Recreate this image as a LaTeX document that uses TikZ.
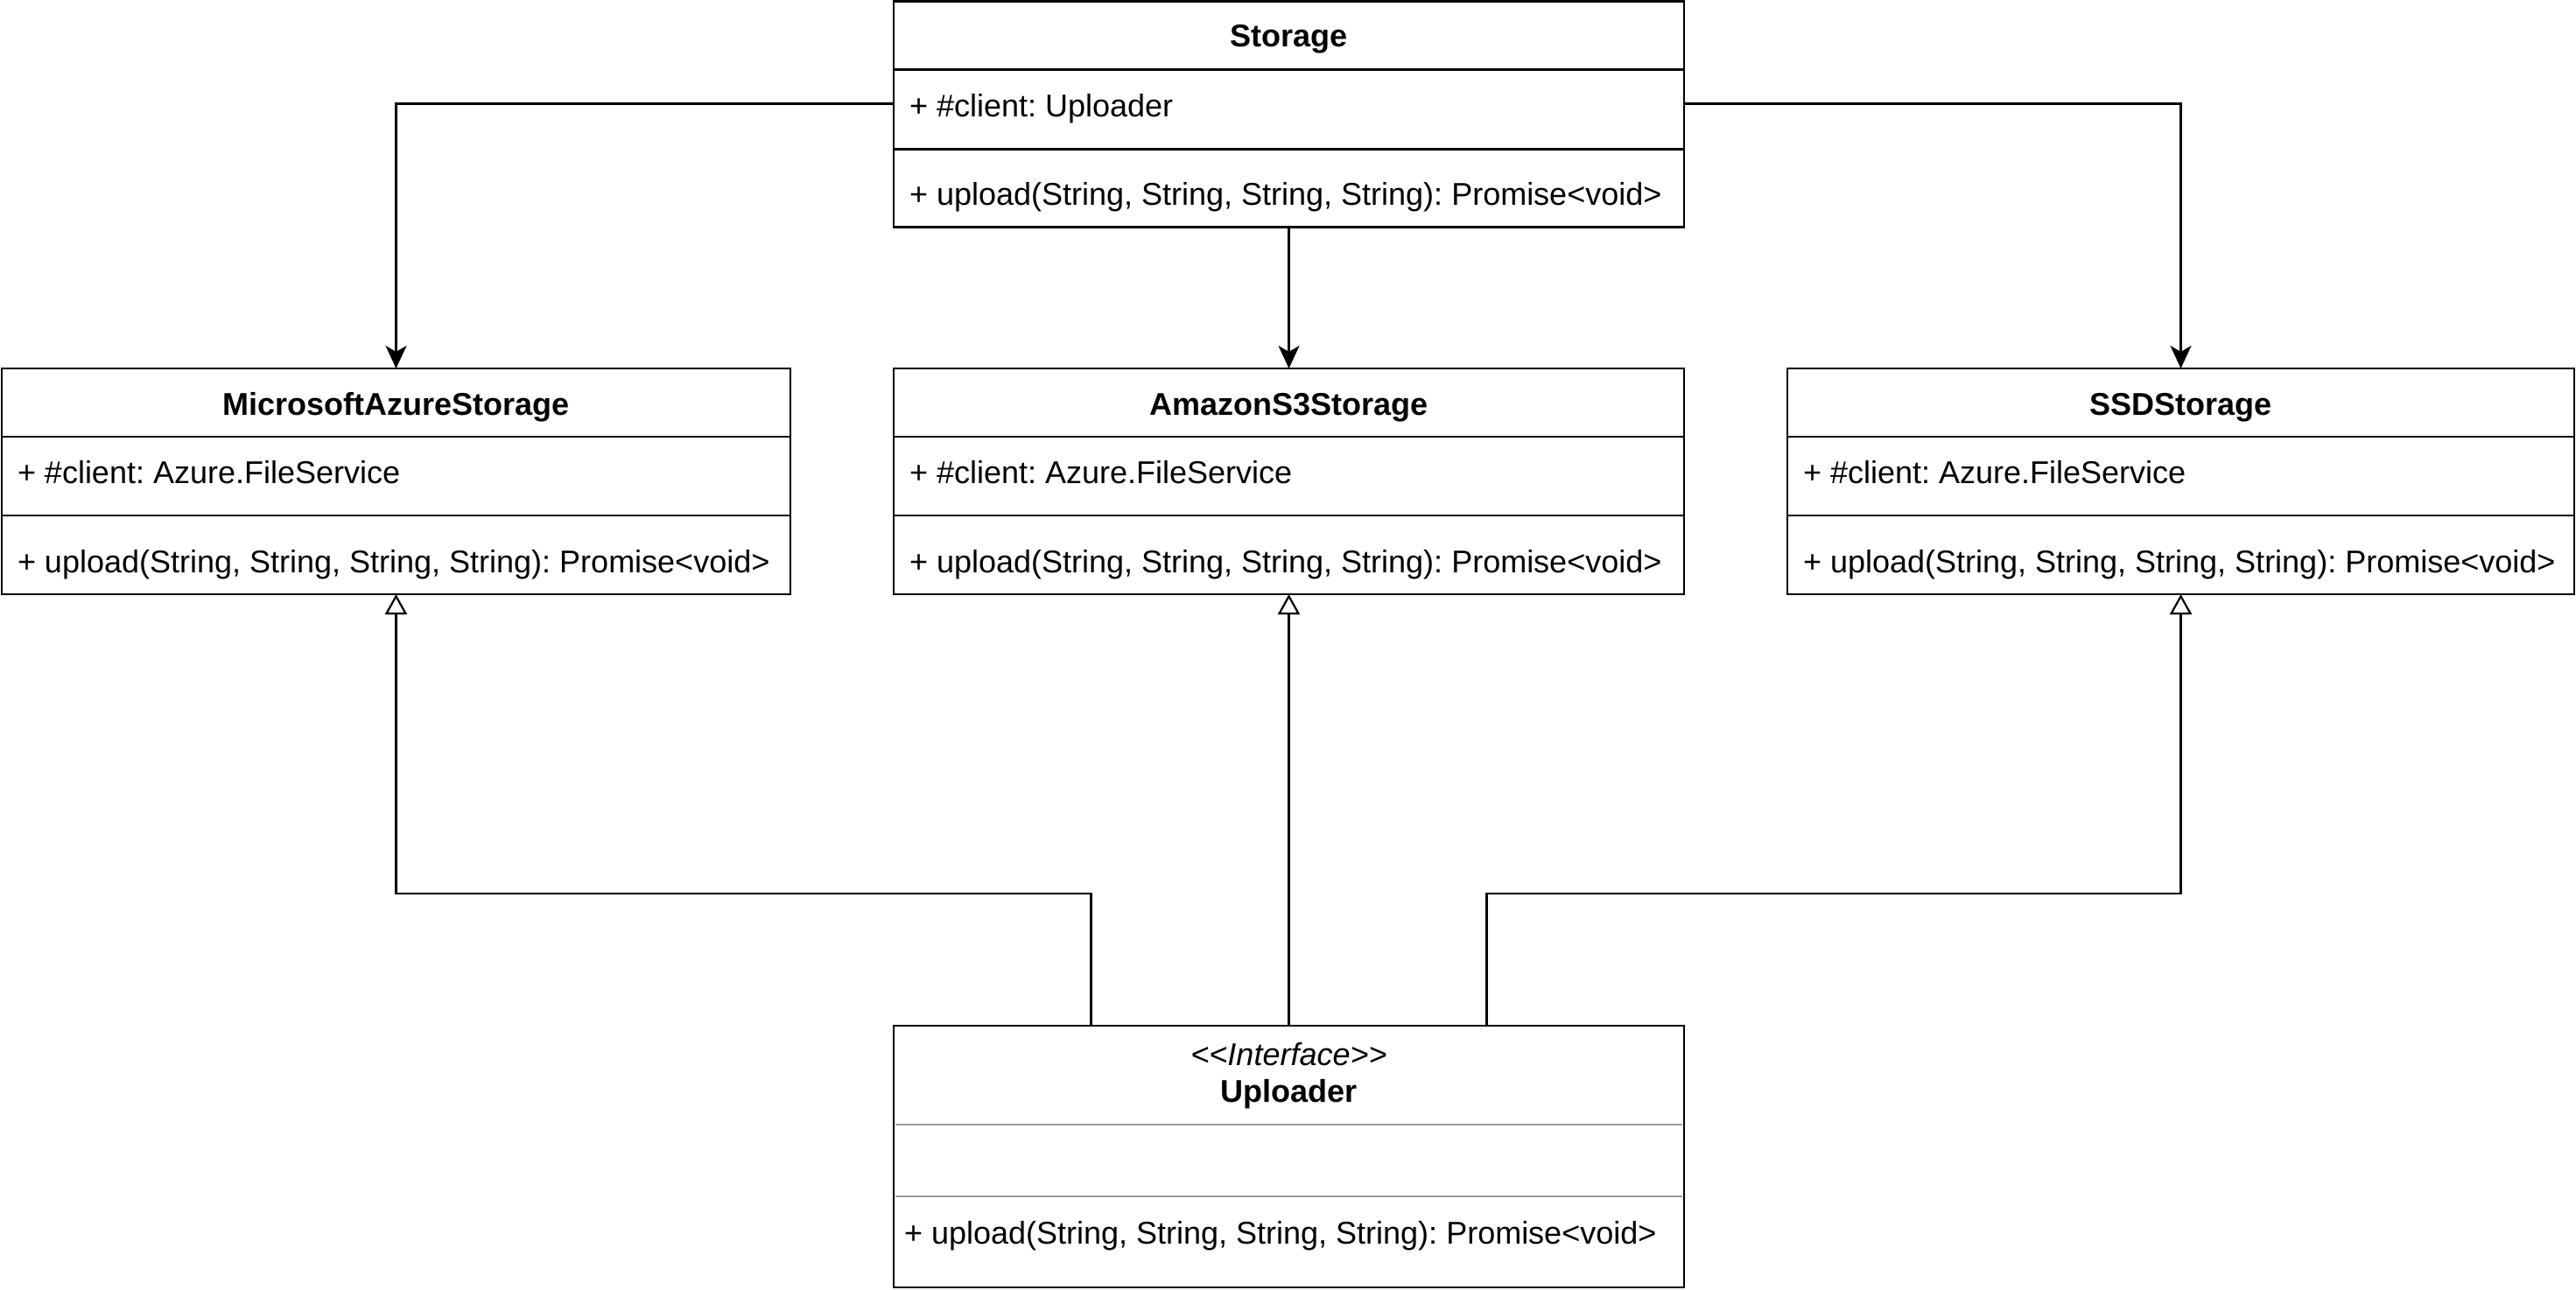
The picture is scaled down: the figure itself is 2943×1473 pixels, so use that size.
\documentclass[tikz,border=0pt]{standalone}
\usepackage{fontspec}
\setmainfont{Liberation Sans}
\usetikzlibrary{arrows.meta}
\frenchspacing
\begin{document}
\begin{tikzpicture}[x=1pt,y=-1pt,
  comp/.style={draw=black, line width=2.8pt, inner sep=0pt, outer sep=0pt, anchor=north west},
  lbl/.style={inner sep=0pt, outer sep=0pt, font=\fontsize{36pt}{43pt}\selectfont},
  head/.style={lbl, anchor=base, font=\fontsize{36pt}{43pt}\selectfont\bfseries},
  member/.style={lbl, anchor=base west},
  assoc/.style={draw=black, line width=2.2pt, -{Stealth[length=26pt, width=24pt, inset=7pt]}},
  real/.style={draw=black, line width=2.2pt, -{Triangle[open, length=23pt, width=25pt, fill=white]}},
  divider/.style={draw=black!40, line width=2.8pt}
]
\useasboundingbox (0,0) rectangle (2943,1473);

% ---------- Storage ----------
\node[comp, minimum width=903pt, minimum height=78pt] (sthead) at (1021,1.5) {};
\node[comp, minimum width=903pt, minimum height=91pt] (stattr) at (1021,79.5) {};
\node[comp, minimum width=903pt, minimum height=89pt] (stmeth) at (1021,170.5) {};
\node[head] (sttitle) at (1472.5,53) {Storage};
\node[member] (stattrt) at (1039,133) {+ \#client: Uploader};
\node[member] (stmetht) at (1039,234) {+ upload(String, String, String, String): Promise<void>};

% ---------- MicrosoftAzureStorage ----------
\node[comp, minimum width=901pt, minimum height=78pt] (azhead) at (2,421) {};
\node[comp, minimum width=901pt, minimum height=90pt] (azattr) at (2,499) {};
\node[comp, minimum width=901pt, minimum height=90pt] (azmeth) at (2,589) {};
\node[head] (aztitle) at (452.5,474) {MicrosoftAzureStorage};
\node[member] (azattrt) at (20,552) {+ \#client: Azure.FileService};
\node[member] (azmetht) at (20,654) {+ upload(String, String, String, String): Promise<void>};

% ---------- AmazonS3Storage ----------
\node[comp, minimum width=903pt, minimum height=78pt] (amhead) at (1021,421) {};
\node[comp, minimum width=903pt, minimum height=90pt] (amattr) at (1021,499) {};
\node[comp, minimum width=903pt, minimum height=90pt] (ammeth) at (1021,589) {};
\node[head] (amtitle) at (1472.5,474) {AmazonS3Storage};
\node[member] (amattrt) at (1039,552) {+ \#client: Azure.FileService};
\node[member] (ammetht) at (1039,654) {+ upload(String, String, String, String): Promise<void>};

% ---------- SSDStorage ----------
\node[comp, minimum width=899pt, minimum height=78pt] (sshead) at (2042,421) {};
\node[comp, minimum width=899pt, minimum height=90pt] (ssattr) at (2042,499) {};
\node[comp, minimum width=899pt, minimum height=90pt] (ssmeth) at (2042,589) {};
\node[head] (sstitle) at (2491.5,474) {SSDStorage};
\node[member] (ssattrt) at (2060,552) {+ \#client: Azure.FileService};
\node[member] (ssmetht) at (2060,654) {+ upload(String, String, String, String): Promise<void>};

% ---------- Uploader (interface) ----------
\draw[divider] (1022.5,1285) -- (1921.5,1285);
\draw[divider] (1022.5,1367) -- (1921.5,1367);
\node[comp, minimum width=903pt, minimum height=299pt] (up) at (1021,1172) {};
\node[lbl, anchor=base, font=\fontsize{36pt}{43pt}\selectfont\itshape] (upster) at (1472.5,1217) {<\kern0pt<Interface>\kern0pt>};
\node[head] (uptitle) at (1472.5,1259) {Uploader};
\node[member] (upmetht) at (1033,1421) {+ upload(String, String, String, String): Promise<void>};

% ---------- Associations ----------
\draw[assoc] ([yshift=6.5pt]stattr.west) -| (azhead.north);
\draw[assoc] ([yshift=6.5pt]stattr.east) -| (sshead.north);
\draw[assoc] (stmeth.south) -- (amhead.north);

% ---------- Realizations ----------
\draw[real] ([xshift=-226pt]up.north) -- ++(0,-151) -| (azmeth.south);
\draw[real] (up.north) -- (ammeth.south);
\draw[real] ([xshift=226pt]up.north) -- ++(0,-151) -| (ssmeth.south);
\end{tikzpicture}
\end{document}
